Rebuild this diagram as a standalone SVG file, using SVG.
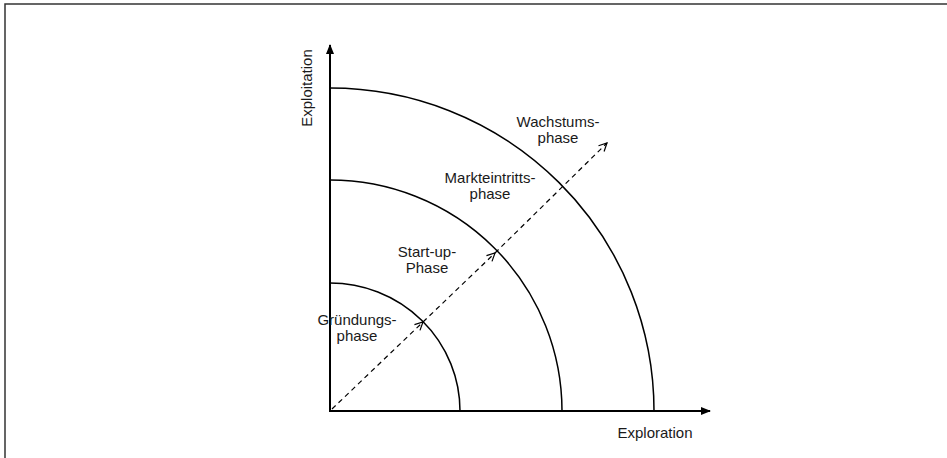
<svg xmlns="http://www.w3.org/2000/svg" width="947" height="458" viewBox="0 0 947 458">
<style>
text{font-family:"Liberation Sans",Arial,sans-serif;font-size:15px;fill:#1a1a1a}
.lbl{text-anchor:middle}
.arc{fill:none;stroke:#000;stroke-width:1.5}
.axis{fill:none;stroke:#000;stroke-width:2}
.dash{fill:none;stroke:#000;stroke-width:1.2;stroke-dasharray:5 4}
</style>
<defs>
<marker id="solid" markerWidth="10" markerHeight="10" refX="9" refY="4" orient="auto" markerUnits="userSpaceOnUse">
<path d="M0,0 L10,4 L0,8 Z" fill="#000"/>
</marker>
<marker id="open" markerWidth="12" markerHeight="12" refX="9" refY="5" orient="auto" markerUnits="userSpaceOnUse">
<path d="M1,1 L9,5 L1,9" fill="none" stroke="#000" stroke-width="1.2"/>
</marker>
</defs>
<rect x="5" y="4" width="960" height="470" fill="none" stroke="#333" stroke-width="1.5"/>
<g id="axes">
<line class="axis" x1="330" y1="412" x2="330" y2="45" marker-end="url(#solid)"/>
<line class="axis" x1="329" y1="411" x2="710" y2="411" marker-end="url(#solid)"/>
<text transform="translate(312,88) rotate(-90)" class="lbl">Exploitation</text>
<text x="655" y="438" class="lbl">Exploration</text>
</g>
<g id="gruendung">
<path class="arc" d="M330,283 A130,128 0 0 1 460,411"/>
<text class="lbl" x="357" y="325">Gründungs-</text>
<text class="lbl" x="357" y="341">phase</text>
</g>
<g id="startup">
<path class="arc" d="M330,180 A232,231 0 0 1 562,411"/>
<text class="lbl" x="427" y="257">Start-up-</text>
<text class="lbl" x="427" y="273">Phase</text>
</g>
<g id="markteintritt">
<text class="lbl" x="490" y="183">Markteintritts-</text>
<text class="lbl" x="490" y="199">phase</text>
</g>
<g id="wachstum">
<path class="arc" d="M330,88 A324,323 0 0 1 654,411"/>
<text class="lbl" x="558" y="127">Wachstums-</text>
<text class="lbl" x="558" y="143">phase</text>
</g>
<g id="connectors">
<line class="dash" x1="332" y1="409" x2="423" y2="322" marker-end="url(#open)"/>
<line class="dash" x1="423" y1="322" x2="495" y2="253" marker-end="url(#open)"/>
<line class="dash" x1="495" y1="253" x2="607" y2="143" marker-end="url(#open)"/>
</g>
</svg>
